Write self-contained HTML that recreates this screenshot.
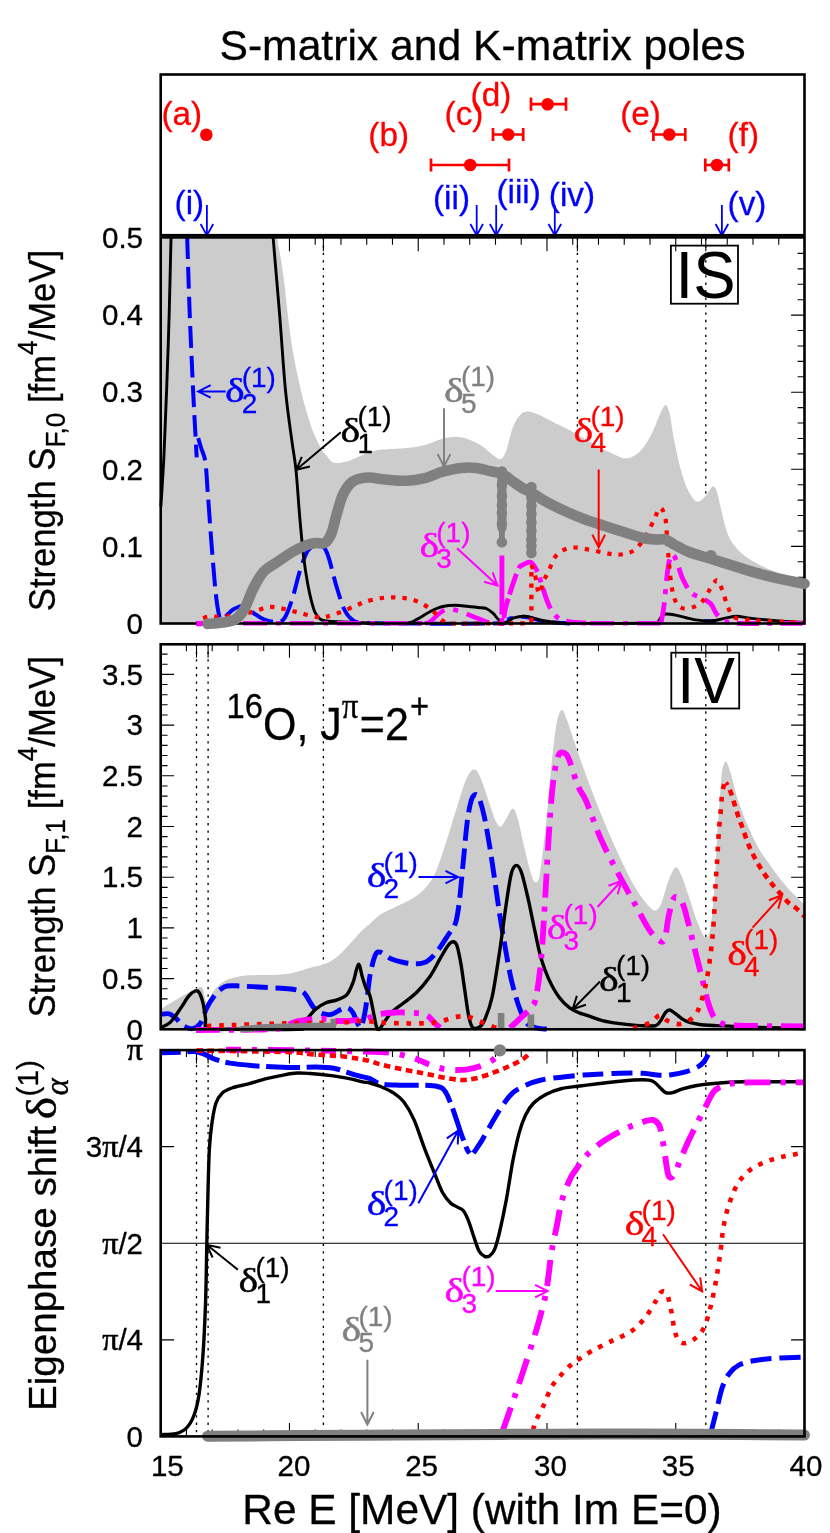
<!DOCTYPE html>
<html><head><meta charset="utf-8"><title>S-matrix and K-matrix poles</title>
<style>
html,body{margin:0;padding:0;background:#fff;}
body{width:830px;height:1533px;overflow:hidden;font-family:"Liberation Sans",sans-serif;}
svg{display:block;will-change:transform;}
svg text{font-family:"Liberation Sans",sans-serif;}
.ser{font-family:"Liberation Serif",serif;}
.seri{font-family:"Liberation Serif",serif;font-style:italic;}
</style></head><body>
<svg width="830" height="1533" viewBox="0 0 830 1533">
<rect x="0" y="0" width="830" height="1533" fill="#fff"/>
<text x="482.5" y="59.8" font-size="42.65" fill="#000" stroke="#000" stroke-width="0.3" text-anchor="middle" >S-matrix and K-matrix poles</text>
<text x="482.0" y="1523.6" font-size="42.4" fill="#000" stroke="#000" stroke-width="0.3" text-anchor="middle" >Re E [MeV] (with Im E=0)</text>
<g transform="translate(55,611.2) rotate(-90) scale(0.936,1)"><text x="0" y="0" font-size="37" stroke="#000" stroke-width="0.3">Strength S<tspan font-size="28" dy="9.8">F,0</tspan><tspan dy="-9.8"> [fm</tspan><tspan font-size="28" dy="-17.6">4</tspan><tspan dy="17.6">/MeV]</tspan></text></g>
<g transform="translate(55,1017.5) rotate(-90) scale(0.936,1)"><text x="0" y="0" font-size="37" stroke="#000" stroke-width="0.3">Strength S<tspan font-size="28" dy="9.8">F,1</tspan><tspan dy="-9.8"> [fm</tspan><tspan font-size="28" dy="-17.6">4</tspan><tspan dy="17.6">/MeV]</tspan></text></g>
<g transform="translate(56.3,1411) rotate(-90) scale(0.977,1)"><text x="0" y="0" font-size="39.5" stroke="#000" stroke-width="0.3">Eigenphase shift</text><text transform="translate(298.6,0) scale(1.125,1)" font-size="43" class="ser" stroke="#000" stroke-width="0.5">δ</text><text x="322" y="-18.6" font-size="30.3" stroke="#000" stroke-width="0.3">(1)</text><text x="323.2" y="11.2" font-size="33" class="seri" stroke="#000" stroke-width="0.4">α</text></g>
<text x="161.5" y="124.7" font-size="33.3" fill="#ff0000" stroke="#ff0000" stroke-width="0.3" text-anchor="start" >(a)</text>
<circle cx="206.3" cy="134.8" r="6.3" fill="#ff0000"/>
<text x="368.3" y="145.8" font-size="33.3" fill="#ff0000" stroke="#ff0000" stroke-width="0.3" text-anchor="start" >(b)</text>
<text x="444.6" y="124.7" font-size="33.3" fill="#ff0000" stroke="#ff0000" stroke-width="0.3" text-anchor="start" >(c)</text>
<text x="470.6" y="106.0" font-size="33.3" fill="#ff0000" stroke="#ff0000" stroke-width="0.3" text-anchor="start" >(d)</text>
<text x="620.2" y="124.7" font-size="33.3" fill="#ff0000" stroke="#ff0000" stroke-width="0.3" text-anchor="start" >(e)</text>
<text x="727.6" y="145.8" font-size="33.3" fill="#ff0000" stroke="#ff0000" stroke-width="0.3" text-anchor="start" >(f)</text>
<path d="M531,104.2 L566,104.2 M531,97.60000000000001 L531,110.8 M566,97.60000000000001 L566,110.8" stroke="#ff0000" stroke-width="2.7" fill="none"/>
<circle cx="547.6" cy="104.2" r="6.3" fill="#ff0000"/>
<path d="M493,134.5 L523.2,134.5 M493,127.9 L493,141.1 M523.2,127.9 L523.2,141.1" stroke="#ff0000" stroke-width="2.7" fill="none"/>
<circle cx="508.2" cy="134.5" r="6.3" fill="#ff0000"/>
<path d="M431,165 L509,165 M431,158.4 L431,171.6 M509,158.4 L509,171.6" stroke="#ff0000" stroke-width="2.7" fill="none"/>
<circle cx="470.2" cy="165" r="6.3" fill="#ff0000"/>
<path d="M653.4,134.5 L685.3,134.5 M653.4,127.9 L653.4,141.1 M685.3,127.9 L685.3,141.1" stroke="#ff0000" stroke-width="2.7" fill="none"/>
<circle cx="669.3" cy="134.5" r="6.3" fill="#ff0000"/>
<path d="M705.3,165 L728.8,165 M705.3,158.4 L705.3,171.6 M728.8,158.4 L728.8,171.6" stroke="#ff0000" stroke-width="2.7" fill="none"/>
<circle cx="716.9" cy="165" r="6.3" fill="#ff0000"/>
<text x="174.6" y="214.0" font-size="33.3" fill="#0000ff" stroke="#0000ff" stroke-width="0.3" text-anchor="start" >(i)</text>
<text x="433.0" y="209.0" font-size="33.3" fill="#0000ff" stroke="#0000ff" stroke-width="0.3" text-anchor="start" >(ii)</text>
<text x="496.4" y="202.7" font-size="33.3" fill="#0000ff" stroke="#0000ff" stroke-width="0.3" text-anchor="start" >(iii)</text>
<text x="548.8" y="206.0" font-size="33.3" fill="#0000ff" stroke="#0000ff" stroke-width="0.3" text-anchor="start" >(iv)</text>
<text x="727.6" y="215.0" font-size="33.3" fill="#0000ff" stroke="#0000ff" stroke-width="0.3" text-anchor="start" >(v)</text>
<path d="M206.9,205.0 L206.9,235.5 M200.6,224.0 L206.9,235.5 L213.2,224.0" fill="none" stroke="#0000ff" stroke-width="1.8" stroke-linejoin="miter"/>
<path d="M476.7,205.0 L476.7,235.5 M470.4,224.0 L476.7,235.5 L483.0,224.0" fill="none" stroke="#0000ff" stroke-width="1.8" stroke-linejoin="miter"/>
<path d="M496.2,205.0 L496.2,235.5 M489.9,224.0 L496.2,235.5 L502.5,224.0" fill="none" stroke="#0000ff" stroke-width="1.8" stroke-linejoin="miter"/>
<path d="M554.8,205.0 L554.8,235.5 M548.5,224.0 L554.8,235.5 L561.1,224.0" fill="none" stroke="#0000ff" stroke-width="1.8" stroke-linejoin="miter"/>
<path d="M721.9,205.0 L721.9,235.5 M715.6,224.0 L721.9,235.5 L728.2,224.0" fill="none" stroke="#0000ff" stroke-width="1.8" stroke-linejoin="miter"/>
<rect x="160.7" y="74.5" width="643.8" height="160.7" fill="none" stroke="#000" stroke-width="2.6"/>
<clipPath id="cIS"><rect x="150" y="237.9" width="670" height="400"/></clipPath>
<path d="M160.70,237.9 v13.4 M160.70,623.5 v-13.4 M186.45,237.9 v6.9 M186.45,623.5 v-6.9 M212.20,237.9 v6.9 M212.20,623.5 v-6.9 M237.96,237.9 v6.9 M237.96,623.5 v-6.9 M263.71,237.9 v6.9 M263.71,623.5 v-6.9 M289.46,237.9 v13.4 M289.46,623.5 v-13.4 M315.21,237.9 v6.9 M315.21,623.5 v-6.9 M340.96,237.9 v6.9 M340.96,623.5 v-6.9 M366.72,237.9 v6.9 M366.72,623.5 v-6.9 M392.47,237.9 v6.9 M392.47,623.5 v-6.9 M418.22,237.9 v13.4 M418.22,623.5 v-13.4 M443.97,237.9 v6.9 M443.97,623.5 v-6.9 M469.72,237.9 v6.9 M469.72,623.5 v-6.9 M495.48,237.9 v6.9 M495.48,623.5 v-6.9 M521.23,237.9 v6.9 M521.23,623.5 v-6.9 M546.98,237.9 v13.4 M546.98,623.5 v-13.4 M572.73,237.9 v6.9 M572.73,623.5 v-6.9 M598.48,237.9 v6.9 M598.48,623.5 v-6.9 M624.24,237.9 v6.9 M624.24,623.5 v-6.9 M649.99,237.9 v6.9 M649.99,623.5 v-6.9 M675.74,237.9 v13.4 M675.74,623.5 v-13.4 M701.49,237.9 v6.9 M701.49,623.5 v-6.9 M727.24,237.9 v6.9 M727.24,623.5 v-6.9 M753.00,237.9 v6.9 M753.00,623.5 v-6.9 M778.75,237.9 v6.9 M778.75,623.5 v-6.9 M804.50,237.9 v13.4 M804.50,623.5 v-13.4 " stroke="#000" stroke-width="1.1" fill="none"/>
<path d="M160.7,546.40 h13.4 M804.5,546.40 h-13.4 M160.7,469.30 h13.4 M804.5,469.30 h-13.4 M160.7,392.20 h13.4 M804.5,392.20 h-13.4 M160.7,315.10 h13.4 M804.5,315.10 h-13.4 M160.7,608.08 h6.9 M804.5,608.08 h-6.9 M160.7,592.66 h6.9 M804.5,592.66 h-6.9 M160.7,577.24 h6.9 M804.5,577.24 h-6.9 M160.7,561.82 h6.9 M804.5,561.82 h-6.9 M160.7,530.98 h6.9 M804.5,530.98 h-6.9 M160.7,515.56 h6.9 M804.5,515.56 h-6.9 M160.7,500.14 h6.9 M804.5,500.14 h-6.9 M160.7,484.72 h6.9 M804.5,484.72 h-6.9 M160.7,453.88 h6.9 M804.5,453.88 h-6.9 M160.7,438.46 h6.9 M804.5,438.46 h-6.9 M160.7,423.04 h6.9 M804.5,423.04 h-6.9 M160.7,407.62 h6.9 M804.5,407.62 h-6.9 M160.7,376.78 h6.9 M804.5,376.78 h-6.9 M160.7,361.36 h6.9 M804.5,361.36 h-6.9 M160.7,345.94 h6.9 M804.5,345.94 h-6.9 M160.7,330.52 h6.9 M804.5,330.52 h-6.9 M160.7,299.68 h6.9 M804.5,299.68 h-6.9 M160.7,284.26 h6.9 M804.5,284.26 h-6.9 M160.7,268.84 h6.9 M804.5,268.84 h-6.9 M160.7,253.42 h6.9 M804.5,253.42 h-6.9 " stroke="#000" stroke-width="1.1" fill="none"/>
<path d="M323.4,237.9 v13.4" stroke="#000" stroke-width="1.1" fill="none"/>
<path d="M323.4,237.9 L323.4,623.5" stroke="#000" stroke-width="1.35" stroke-dasharray="2.3 5.15" fill="none"/>
<path d="M577.4,237.9 v13.4" stroke="#000" stroke-width="1.1" fill="none"/>
<path d="M577.4,237.9 L577.4,623.5" stroke="#000" stroke-width="1.35" stroke-dasharray="2.3 5.15" fill="none"/>
<path d="M705.8,237.9 v13.4" stroke="#000" stroke-width="1.1" fill="none"/>
<path d="M705.8,237.9 L705.8,623.5" stroke="#000" stroke-width="1.35" stroke-dasharray="2.3 5.15" fill="none"/>
<text x="143.0" y="633.7" font-size="29.5" fill="#000" stroke="#000" stroke-width="0.3" text-anchor="end" >0</text>
<text x="143.0" y="556.6" font-size="29.5" fill="#000" stroke="#000" stroke-width="0.3" text-anchor="end" >0.1</text>
<text x="143.0" y="479.5" font-size="29.5" fill="#000" stroke="#000" stroke-width="0.3" text-anchor="end" >0.2</text>
<text x="143.0" y="402.4" font-size="29.5" fill="#000" stroke="#000" stroke-width="0.3" text-anchor="end" >0.3</text>
<text x="143.0" y="325.3" font-size="29.5" fill="#000" stroke="#000" stroke-width="0.3" text-anchor="end" >0.4</text>
<text x="143.0" y="248.2" font-size="29.5" fill="#000" stroke="#000" stroke-width="0.3" text-anchor="end" >0.5</text>
<path d="M277.0,225.0 C277.1,227.3 276.5,230.3 277.5,238.6 C278.5,246.9 281.0,257.9 283.2,274.6 C285.4,291.3 288.3,321.3 290.9,338.9 C293.5,356.5 296.0,368.1 298.6,380.1 C301.2,392.1 303.7,402.0 306.3,411.0 C308.9,420.0 311.4,427.7 314.0,434.1 C316.6,440.5 319.7,446.0 321.8,449.6 C323.9,453.2 324.9,453.8 326.9,456.0 C328.9,458.2 330.5,461.9 333.8,462.8 C337.1,463.7 342.4,462.5 346.7,461.4 C351.0,460.3 355.8,457.7 359.7,456.2 C363.6,454.7 366.5,453.4 370.0,452.3 C373.5,451.2 375.3,450.4 380.5,449.7 C385.7,449.0 394.4,449.0 401.3,448.4 C408.2,447.8 415.5,447.3 422.0,445.8 C428.5,444.3 434.5,440.9 440.1,439.4 C445.7,437.9 450.9,436.8 455.7,436.8 C460.4,436.8 464.3,437.9 468.6,439.4 C472.9,440.9 477.3,443.0 481.6,445.8 C485.9,448.6 491.3,454.0 494.5,456.2 C497.7,458.4 499.1,459.7 501.0,458.8 C502.9,457.9 504.2,456.2 506.2,451.0 C508.1,445.8 510.3,433.7 512.7,427.7 C515.1,421.7 517.8,417.5 520.4,414.8 C523.0,412.1 525.2,411.6 528.2,411.6 C531.2,411.6 534.7,413.2 538.6,414.8 C542.5,416.4 546.8,418.8 551.5,421.2 C556.2,423.6 562.4,426.5 567.1,429.0 C571.9,431.5 575.9,433.7 580.0,436.0 C584.1,438.3 587.2,440.3 592.0,443.0 C596.8,445.7 603.3,449.4 609.0,452.0 C614.7,454.6 620.8,458.4 626.0,458.3 C631.2,458.2 635.9,455.2 640.1,451.2 C644.3,447.2 648.1,440.3 651.4,434.2 C654.7,428.1 657.5,419.3 659.9,414.4 C662.3,409.5 664.0,405.0 665.6,405.0 C667.2,405.0 668.4,408.6 669.8,414.4 C671.2,420.2 672.2,430.5 674.1,439.9 C676.0,449.3 678.8,462.5 681.2,471.0 C683.6,479.5 685.7,485.7 688.3,490.8 C690.9,495.9 693.9,500.7 696.7,501.6 C699.5,502.6 702.8,498.8 705.2,496.5 C707.6,494.2 709.5,489.6 710.9,488.0 C712.3,486.4 712.8,486.1 713.7,486.6 C714.7,487.1 715.4,487.3 716.6,490.8 C717.8,494.3 719.1,501.2 720.8,507.8 C722.4,514.4 724.4,524.3 726.5,530.4 C728.6,536.5 730.4,540.4 733.5,544.6 C736.6,548.9 740.2,552.4 744.9,555.9 C749.6,559.4 756.2,563.1 761.9,565.9 C767.6,568.7 771.8,570.5 778.9,572.9 C786.0,575.2 800.2,578.8 804.5,580.0 L804.5,623.5 L160.7,623.5 L160.7,225 Z" fill="#cccccc" stroke="none" clip-path="url(#cIS)"/>
<g clip-path="url(#cIS)">
<path d="M186.9,230.0 C186.9,231.4 186.7,224.7 187.2,238.6 C187.7,252.5 188.7,287.9 189.7,313.2 C190.7,338.5 192.1,369.4 193.1,390.4 C194.1,411.4 195.1,428.1 195.7,439.3 C196.3,450.5 196.5,454.3 196.7,457.3" fill="none" stroke="#0000ff" stroke-width="4.0" stroke-dasharray="21.7 7.9" stroke-dashoffset="21.4"/>
<path d="M198.2,438.1 C198.8,439.9 200.3,445.1 201.5,449.0 C202.7,452.9 204.2,454.2 205.3,461.6 C206.4,469.0 206.8,479.5 207.8,493.4 C208.9,507.3 210.3,528.5 211.6,544.8 C212.9,561.1 214.3,579.6 215.5,591.1 C216.7,602.6 217.8,609.3 218.8,614.0 C219.8,618.7 220.3,618.7 221.3,619.2 C222.3,619.7 222.9,618.5 225.0,616.8 C227.1,615.1 230.8,610.8 234.0,609.0 C237.2,607.2 240.8,605.3 244.0,606.0 C247.2,606.7 250.1,610.8 253.4,613.0 C256.7,615.2 259.9,617.9 263.8,619.4 C267.7,620.9 273.4,622.2 276.8,622.0 C280.2,621.8 281.9,622.0 284.5,618.1 C287.1,614.2 289.7,606.7 292.3,598.7 C294.9,590.7 297.5,578.2 300.1,570.2 C302.7,562.2 305.2,554.9 307.8,550.8 C310.4,546.7 313.0,546.2 315.6,545.6 C318.2,545.0 321.2,545.0 323.4,546.9 C325.6,548.8 326.5,550.8 328.6,557.3 C330.8,563.8 333.7,577.2 336.3,585.8 C338.9,594.4 341.5,603.4 344.1,609.0 C346.7,614.6 348.9,617.1 351.9,619.4 C354.9,621.7 354.3,622.1 362.3,622.8 C370.3,623.5 377.4,623.4 400.0,623.5 C422.6,623.6 479.7,624.1 498.0,623.3 C516.3,622.5 505.4,619.5 510.0,618.5 C514.6,617.5 519.8,616.5 525.6,617.0 C531.4,617.5 537.6,620.4 545.0,621.5 C552.4,622.6 565.8,623.2 570.0,623.5" fill="none" stroke="#0000ff" stroke-width="4.0" stroke-dasharray="23.5 8" />
<path d="M703.5,621.0 L716.0,621.0" fill="none" stroke="#0000ff" stroke-width="3.6" />
<path d="M160.9,506.5 C161.4,497.9 163.1,474.1 164.0,454.7 C164.9,435.3 165.7,414.0 166.6,390.4 C167.5,366.8 168.5,338.5 169.2,313.2 C169.9,287.9 170.6,253.3 171.0,238.6 C171.4,223.9 171.3,227.3 171.4,225.0" fill="none" stroke="#000" stroke-width="2.9" />
<path d="M272.2,225.0 C272.4,227.3 272.0,223.9 273.2,238.6 C274.4,253.3 277.4,287.9 279.5,313.2 C281.6,338.5 283.4,369.0 285.5,390.4 C287.6,411.8 290.2,428.5 292.0,441.8 C293.8,455.1 294.7,457.2 296.0,470.1 C297.3,483.0 298.6,504.4 299.9,519.0 C301.2,533.6 302.4,546.9 303.7,557.6 C305.0,568.3 306.3,576.0 307.6,583.3 C308.9,590.6 310.2,596.4 311.5,601.3 C312.8,606.2 313.8,609.9 315.3,612.9 C316.8,615.9 318.6,617.9 320.5,619.3 C322.4,620.6 322.1,620.5 327.0,621.0 C331.9,621.5 337.2,621.9 350.0,622.3 C362.8,622.7 392.8,623.8 403.9,623.3 C415.0,622.8 412.5,621.3 416.8,619.4 C421.1,617.5 425.5,613.9 429.8,611.7 C434.1,609.6 438.4,607.6 442.7,606.5 C447.0,605.4 451.4,605.2 455.7,605.2 C460.0,605.2 464.3,606.1 468.6,606.5 C472.9,606.9 478.6,607.4 481.6,607.8 C484.6,608.2 484.7,607.7 486.7,608.7 C488.7,609.7 491.5,611.9 493.5,613.7 C495.5,615.5 496.5,618.1 498.6,619.6 C500.7,621.1 503.7,622.8 506.2,622.5 C508.7,622.2 510.5,618.9 513.7,617.9 C516.9,616.9 521.8,616.1 525.5,616.3 C529.2,616.4 532.0,618.0 535.7,618.8 C539.4,619.6 541.4,620.5 547.5,621.3 C553.6,622.0 555.2,623.0 572.3,623.3 C589.4,623.6 635.9,623.1 650.0,623.0 C664.1,622.9 655.2,623.5 657.1,622.5 C659.0,621.5 660.0,618.2 661.4,616.8 C662.8,615.4 663.0,614.2 665.6,614.0 C668.2,613.8 672.2,614.5 676.9,615.4 C681.6,616.3 688.2,618.7 693.9,619.6 C699.6,620.5 705.7,621.2 710.9,621.0 C716.1,620.8 720.9,619.0 725.1,618.2 C729.4,617.4 732.2,616.2 736.4,616.2 C740.6,616.2 744.4,617.5 750.5,618.2 C756.6,618.9 764.2,619.8 773.2,620.5 C782.2,621.2 799.3,622.2 804.5,622.5" fill="none" stroke="#000" stroke-width="2.9" />
<path d="M196.0,623.3 L425.0,623.3" fill="none" stroke="#ff00ff" stroke-width="4.6" stroke-dasharray="24 9 5 9" />
<path d="M425.0,623.3 C425.8,623.1 427.3,623.7 429.8,622.0 C432.3,620.3 437.0,615.2 440.0,613.0 C443.0,610.8 444.5,609.2 448.0,609.0 C451.5,608.8 456.6,610.4 460.9,611.7 C465.2,613.0 469.5,615.1 473.8,616.8 C478.1,618.5 482.9,620.8 486.8,622.0 C490.7,623.2 495.3,623.5 497.0,623.8" fill="none" stroke="#ff00ff" stroke-width="4.6" stroke-dasharray="24 9 5 9" />
<path d="M501.9,555.5 L501.9,626.0" fill="none" stroke="#ff00ff" stroke-width="4.9" stroke-dasharray="59 3.5 20" />
<path d="M504.0,618.0 C504.2,616.5 504.0,613.9 505.3,608.7 C506.6,603.5 509.8,593.5 512.0,586.7 C514.2,580.0 517.0,571.9 518.8,568.2 C520.6,564.6 521.0,565.8 523.0,564.8 C525.0,563.8 528.2,561.2 530.6,562.3 C533.0,563.4 535.3,567.5 537.3,571.6 C539.3,575.7 540.7,581.7 542.4,586.7 C544.1,591.8 545.8,597.7 547.5,601.9 C549.2,606.1 550.5,609.2 552.5,612.0 C554.5,614.8 556.5,617.2 559.3,618.8 C562.1,620.4 564.3,621.0 569.4,621.8 C574.5,622.5 586.6,623.0 590.0,623.3" fill="none" stroke="#ff00ff" stroke-width="4.9" stroke-dasharray="20 4 22 6 26 6 5 6 22 8 5 8" />
<path d="M590.0,623.3 L660.0,623.3" fill="none" stroke="#ff00ff" stroke-width="4.6" stroke-dasharray="24 9 5 9" />
<path d="M660.0,623.0 C660.2,622.7 660.7,624.2 661.4,621.0 C662.1,617.8 663.3,611.5 664.2,604.0 C665.1,596.5 666.1,583.2 667.0,575.7 C667.9,568.2 668.8,562.3 669.8,558.8 C670.8,555.3 671.5,554.0 672.7,554.5 C673.9,555.0 675.2,557.6 676.9,561.6 C678.5,565.6 680.2,573.4 682.6,578.6 C685.0,583.8 687.8,589.4 691.1,592.7 C694.4,596.0 699.1,596.5 702.4,598.4 C705.7,600.3 708.5,601.4 710.9,604.0 C713.3,606.6 714.2,611.2 716.6,614.0 C719.0,616.8 721.2,619.5 725.1,621.0 C729.0,622.5 726.8,622.9 740.0,623.3 C753.2,623.7 793.8,623.3 804.5,623.3" fill="none" stroke="#ff00ff" stroke-width="4.8" stroke-dasharray="22 8 5 8" />
<path d="M203.0,618.0 C204.3,617.7 208.2,616.5 211.0,616.3 C213.8,616.1 215.6,617.0 219.8,616.8 C224.0,616.6 230.4,615.9 236.0,615.0 C241.6,614.1 247.9,613.0 253.4,611.7 C258.9,610.4 263.8,607.5 269.0,607.0 C274.2,606.5 279.3,608.0 284.5,609.0 C289.7,610.0 294.8,611.7 300.0,613.0 C305.2,614.3 311.3,616.2 315.6,616.8 C319.9,617.4 321.7,617.6 326.0,616.8 C330.3,615.9 336.3,613.6 341.5,611.7 C346.7,609.8 353.1,606.9 357.0,605.2 C360.9,603.6 361.1,603.0 365.0,601.8 C368.9,600.6 375.3,598.9 380.5,598.2 C385.7,597.5 390.8,597.2 396.0,597.4 C401.2,597.6 406.8,598.2 411.6,599.5 C416.4,600.8 420.7,603.0 424.6,605.2 C428.5,607.5 432.0,610.4 435.0,613.0 C438.0,615.6 439.7,619.0 442.7,620.7 C445.7,622.5 446.8,623.0 453.0,623.5 C459.2,624.0 468.0,623.5 480.0,623.5 C492.0,623.5 516.4,623.5 525.0,623.3 C533.6,623.0 530.3,622.2 531.4,622.0" fill="none" stroke="#ff0000" stroke-width="4.2" stroke-dasharray="4.4 7" />
<path d="M531.4,622.0 L531.4,565.0" fill="none" stroke="#ff0000" stroke-width="4.4" stroke-dasharray="4.4 7" />
<path d="M531.4,565.0 C532.0,566.7 533.7,570.2 535.0,575.0 C536.3,579.8 537.5,592.7 539.0,593.5 C540.5,594.3 542.4,583.9 544.1,580.0 C545.8,576.1 547.5,573.5 549.2,569.9 C550.9,566.2 552.0,561.3 554.2,558.1 C556.4,554.9 559.2,552.3 562.6,550.5 C566.0,548.7 570.1,547.6 574.5,547.5 C578.9,547.4 584.4,548.9 589.2,549.7 C594.0,550.5 599.1,551.7 603.3,552.5 C607.5,553.3 610.8,554.3 614.6,554.5 C618.4,554.7 622.5,554.6 626.0,553.7 C629.5,552.8 632.6,551.8 635.9,548.9 C639.2,546.0 642.7,541.1 645.8,536.1 C648.9,531.1 651.9,523.8 654.3,519.1 C656.6,514.4 658.1,508.3 659.9,507.8 C661.7,507.3 663.8,511.6 665.0,516.3 C666.2,521.0 666.4,529.5 667.0,536.1 C667.6,542.7 667.7,547.9 668.4,555.9 C669.1,563.9 670.1,576.8 671.3,584.3 C672.5,591.8 673.6,597.2 675.5,601.2 C677.4,605.2 679.5,607.3 682.6,608.3 C685.7,609.2 690.6,608.1 693.9,606.9 C697.2,605.7 699.8,604.0 702.4,601.2 C705.0,598.4 707.4,593.2 709.5,589.9 C711.6,586.6 713.8,582.9 715.2,581.4 C716.6,579.9 716.8,579.4 718.0,580.8 C719.2,582.2 720.6,585.5 722.2,589.9 C723.9,594.2 726.0,602.4 727.9,606.9 C729.8,611.4 730.7,614.7 733.5,616.8 C736.3,618.9 740.2,618.9 744.9,619.6 C749.6,620.3 752.0,620.5 761.9,621.0 C771.8,621.5 797.4,622.2 804.5,622.5" fill="none" stroke="#ff0000" stroke-width="4.2" stroke-dasharray="4.4 7" />
</g>
<rect x="160.7" y="237.4" width="643.8" height="386.1" fill="none" stroke="#000" stroke-width="2.6"/>
<g clip-path="url(#cIS)">
<rect x="196.4" y="620.9" width="6" height="5.4" fill="#ff00ff"/>
<path d="M207.5,623.9 C210.0,623.7 217.8,623.2 222.4,622.5 C227.0,621.8 231.6,621.6 235.3,619.4 C239.0,617.1 241.4,614.2 244.4,609.0 C247.4,603.8 250.2,594.5 253.4,588.3 C256.6,582.0 259.9,575.8 263.8,571.5 C267.7,567.2 272.1,565.6 276.8,562.4 C281.6,559.1 287.6,554.8 292.3,552.0 C297.1,549.2 301.4,547.1 305.3,545.6 C309.2,544.1 312.4,543.4 315.6,543.0 C318.8,542.6 322.1,544.5 324.7,543.0 C327.3,541.5 329.3,538.4 331.2,533.9 C333.1,529.4 334.4,522.3 336.3,515.8 C338.2,509.3 340.2,500.6 342.8,495.0 C345.4,489.4 348.6,484.9 351.9,482.1 C355.1,479.3 359.3,479.0 362.3,478.2 C365.3,477.4 366.1,477.3 370.0,477.5 C373.9,477.7 379.6,478.9 385.7,479.5 C391.8,480.1 400.0,481.0 406.5,480.8 C413.0,480.6 418.6,479.7 424.6,478.2 C430.6,476.7 436.6,473.4 442.7,471.7 C448.8,470.0 455.3,468.5 460.9,467.9 C466.5,467.3 471.5,467.3 476.4,467.9 C481.3,468.4 485.9,470.2 490.1,471.2 C494.4,472.2 498.0,471.9 501.9,473.7 C505.8,475.5 510.0,479.7 513.7,482.2 C517.4,484.7 521.0,487.2 523.9,488.9 C526.8,490.6 528.0,490.5 531.4,492.5 C534.8,494.5 538.6,497.6 544.1,500.7 C549.6,503.8 557.5,507.7 564.3,510.8 C571.0,513.9 577.9,516.8 584.6,519.3 C591.4,521.8 598.8,524.0 604.8,526.0 C610.8,528.0 613.9,529.0 620.3,531.0 C626.7,533.0 636.9,536.6 643.0,538.0 C649.1,539.4 653.3,539.2 657.1,539.5 C660.9,539.8 662.8,538.6 665.6,539.5 C668.4,540.4 670.3,542.6 674.1,544.6 C677.9,546.6 682.2,549.3 688.3,551.7 C694.4,554.1 703.4,556.4 710.9,558.8 C718.4,561.2 726.0,563.5 733.5,565.9 C741.0,568.2 748.6,570.8 756.2,572.9 C763.8,575.0 770.9,576.8 778.9,578.6 C786.9,580.4 800.2,582.9 804.5,583.7" fill="none" stroke="#808080" stroke-width="10.6" stroke-linecap="round" stroke-linejoin="round"/>
<path d="M501.9,472.0 L501.9,528.0" fill="none" stroke="#808080" stroke-width="9.2" stroke-linecap="round"/>
<path d="M531.4,487.5 L531.4,553.0" fill="none" stroke="#808080" stroke-width="9.2" stroke-linecap="round"/>
<circle cx="501.9" cy="471.5" r="5.3" fill="#808080"/>
<circle cx="501.9" cy="485" r="5.3" fill="#808080"/>
<circle cx="501.9" cy="496" r="5.3" fill="#808080"/>
<circle cx="501.9" cy="505" r="5.3" fill="#808080"/>
<circle cx="501.9" cy="513" r="5.3" fill="#808080"/>
<circle cx="501.9" cy="524" r="5.3" fill="#808080"/>
<circle cx="501.9" cy="542.3" r="5.3" fill="#808080"/>
<circle cx="531.4" cy="487" r="5.3" fill="#808080"/>
<circle cx="531.4" cy="497" r="5.3" fill="#808080"/>
<circle cx="531.4" cy="505.5" r="5.3" fill="#808080"/>
<circle cx="531.4" cy="514" r="5.3" fill="#808080"/>
<circle cx="531.4" cy="522.5" r="5.3" fill="#808080"/>
<circle cx="531.4" cy="531" r="5.3" fill="#808080"/>
<circle cx="531.4" cy="539.5" r="5.3" fill="#808080"/>
<circle cx="531.4" cy="546" r="5.3" fill="#808080"/>
<circle cx="531.4" cy="553" r="5.3" fill="#808080"/>
<rect x="499" y="528" width="5.8" height="11" fill="#808080"/>
<circle cx="710.9" cy="555.5" r="5.6" fill="#808080"/>
</g>
<rect x="670.9" y="245.6" width="67.1" height="58.1" fill="none" stroke="#000" stroke-width="1.8"/>
<text transform="translate(705.6,297.6) scale(0.955,1)" font-size="66.5" text-anchor="middle">IS</text>
<text transform="translate(224.9,402.0) scale(1.22,1)" font-size="34.3" fill="#0000ff" stroke="#0000ff" stroke-width="0.45" class="ser">δ</text>
<text x="241.7" y="386.6" font-size="28" fill="#0000ff" stroke="#0000ff" stroke-width="0.3">(1)</text>
<text x="241.7" y="412.8" font-size="28" fill="#0000ff" stroke="#0000ff" stroke-width="0.3">2</text>
<path d="M225.7,391.4 L198.2,391.4 M210.7,385.1 L198.2,391.4 L210.7,397.7" fill="none" stroke="#0000ff" stroke-width="2.0" stroke-linejoin="miter"/>
<text transform="translate(340.6,441.8) scale(1.22,1)" font-size="34.3" fill="#000" stroke="#000" stroke-width="0.45" class="ser">δ</text>
<text x="357.4" y="426.4" font-size="28" fill="#000" stroke="#000" stroke-width="0.3">(1)</text>
<text x="357.4" y="452.6" font-size="28" fill="#000" stroke="#000" stroke-width="0.3">1</text>
<path d="M340.8,432.2 L296.3,469.8 M301.8,456.9 L296.3,469.8 L309.9,466.5" fill="none" stroke="#000" stroke-width="2.0" stroke-linejoin="miter"/>
<text transform="translate(444.1,401.8) scale(1.22,1)" font-size="34.3" fill="#808080" stroke="#808080" stroke-width="0.45" class="ser">δ</text>
<text x="460.9" y="386.4" font-size="28" fill="#808080" stroke="#808080" stroke-width="0.3">(1)</text>
<text x="460.9" y="412.6" font-size="28" fill="#808080" stroke="#808080" stroke-width="0.3">5</text>
<path d="M444.0,408.3 L444.0,466.6 M437.7,454.1 L444.0,466.6 L450.3,454.1" fill="none" stroke="#808080" stroke-width="2.0" stroke-linejoin="miter"/>
<text transform="translate(419.5,557.2) scale(1.22,1)" font-size="34.3" fill="#ff00ff" stroke="#ff00ff" stroke-width="0.45" class="ser">δ</text>
<text x="436.3" y="541.8" font-size="28" fill="#ff00ff" stroke="#ff00ff" stroke-width="0.3">(1)</text>
<text x="436.3" y="568.0" font-size="28" fill="#ff00ff" stroke="#ff00ff" stroke-width="0.3">3</text>
<path d="M457.0,548.2 L497.5,585.5 M484.0,581.7 L497.5,585.5 L492.6,572.4" fill="none" stroke="#ff00ff" stroke-width="2.0" stroke-linejoin="miter"/>
<text transform="translate(573.6,441.5) scale(1.22,1)" font-size="34.3" fill="#ff0000" stroke="#ff0000" stroke-width="0.45" class="ser">δ</text>
<text x="590.4" y="426.1" font-size="28" fill="#ff0000" stroke="#ff0000" stroke-width="0.3">(1)</text>
<text x="590.4" y="452.3" font-size="28" fill="#ff0000" stroke="#ff0000" stroke-width="0.3">4</text>
<path d="M598.7,469.5 L598.7,547.2 M592.4,534.7 L598.7,547.2 L605.0,534.7" fill="none" stroke="#ff0000" stroke-width="2.0" stroke-linejoin="miter"/>
<clipPath id="cIV"><rect x="150" y="644.3" width="670" height="391.0"/></clipPath>
<path d="M160.70,644.3 v13.4 M160.70,1029.3 v-13.4 M186.45,644.3 v6.9 M186.45,1029.3 v-6.9 M212.20,644.3 v6.9 M212.20,1029.3 v-6.9 M237.96,644.3 v6.9 M237.96,1029.3 v-6.9 M263.71,644.3 v6.9 M263.71,1029.3 v-6.9 M289.46,644.3 v13.4 M289.46,1029.3 v-13.4 M315.21,644.3 v6.9 M315.21,1029.3 v-6.9 M340.96,644.3 v6.9 M340.96,1029.3 v-6.9 M366.72,644.3 v6.9 M366.72,1029.3 v-6.9 M392.47,644.3 v6.9 M392.47,1029.3 v-6.9 M418.22,644.3 v13.4 M418.22,1029.3 v-13.4 M443.97,644.3 v6.9 M443.97,1029.3 v-6.9 M469.72,644.3 v6.9 M469.72,1029.3 v-6.9 M495.48,644.3 v6.9 M495.48,1029.3 v-6.9 M521.23,644.3 v6.9 M521.23,1029.3 v-6.9 M546.98,644.3 v13.4 M546.98,1029.3 v-13.4 M572.73,644.3 v6.9 M572.73,1029.3 v-6.9 M598.48,644.3 v6.9 M598.48,1029.3 v-6.9 M624.24,644.3 v6.9 M624.24,1029.3 v-6.9 M649.99,644.3 v6.9 M649.99,1029.3 v-6.9 M675.74,644.3 v13.4 M675.74,1029.3 v-13.4 M701.49,644.3 v6.9 M701.49,1029.3 v-6.9 M727.24,644.3 v6.9 M727.24,1029.3 v-6.9 M753.00,644.3 v6.9 M753.00,1029.3 v-6.9 M778.75,644.3 v6.9 M778.75,1029.3 v-6.9 M804.50,644.3 v13.4 M804.50,1029.3 v-13.4 " stroke="#000" stroke-width="1.1" fill="none"/>
<path d="M160.7,978.60 h13.4 M804.5,978.60 h-13.4 M160.7,927.90 h13.4 M804.5,927.90 h-13.4 M160.7,877.20 h13.4 M804.5,877.20 h-13.4 M160.7,826.50 h13.4 M804.5,826.50 h-13.4 M160.7,775.80 h13.4 M804.5,775.80 h-13.4 M160.7,725.10 h13.4 M804.5,725.10 h-13.4 M160.7,674.40 h13.4 M804.5,674.40 h-13.4 M160.7,1019.16 h6.9 M804.5,1019.16 h-6.9 M160.7,1009.02 h6.9 M804.5,1009.02 h-6.9 M160.7,998.88 h6.9 M804.5,998.88 h-6.9 M160.7,988.74 h6.9 M804.5,988.74 h-6.9 M160.7,968.46 h6.9 M804.5,968.46 h-6.9 M160.7,958.32 h6.9 M804.5,958.32 h-6.9 M160.7,948.18 h6.9 M804.5,948.18 h-6.9 M160.7,938.04 h6.9 M804.5,938.04 h-6.9 M160.7,917.76 h6.9 M804.5,917.76 h-6.9 M160.7,907.62 h6.9 M804.5,907.62 h-6.9 M160.7,897.48 h6.9 M804.5,897.48 h-6.9 M160.7,887.34 h6.9 M804.5,887.34 h-6.9 M160.7,867.06 h6.9 M804.5,867.06 h-6.9 M160.7,856.92 h6.9 M804.5,856.92 h-6.9 M160.7,846.78 h6.9 M804.5,846.78 h-6.9 M160.7,836.64 h6.9 M804.5,836.64 h-6.9 M160.7,816.36 h6.9 M804.5,816.36 h-6.9 M160.7,806.22 h6.9 M804.5,806.22 h-6.9 M160.7,796.08 h6.9 M804.5,796.08 h-6.9 M160.7,785.94 h6.9 M804.5,785.94 h-6.9 M160.7,765.66 h6.9 M804.5,765.66 h-6.9 M160.7,755.52 h6.9 M804.5,755.52 h-6.9 M160.7,745.38 h6.9 M804.5,745.38 h-6.9 M160.7,735.24 h6.9 M804.5,735.24 h-6.9 M160.7,714.96 h6.9 M804.5,714.96 h-6.9 M160.7,704.82 h6.9 M804.5,704.82 h-6.9 M160.7,694.68 h6.9 M804.5,694.68 h-6.9 M160.7,684.54 h6.9 M804.5,684.54 h-6.9 M160.7,664.26 h6.9 M804.5,664.26 h-6.9 M160.7,654.12 h6.9 M804.5,654.12 h-6.9 " stroke="#000" stroke-width="1.1" fill="none"/>
<path d="M196.5,644.3 v13.4" stroke="#000" stroke-width="1.1" fill="none"/>
<path d="M196.5,644.3 L196.5,1029.3" stroke="#000" stroke-width="1.35" stroke-dasharray="2.3 5.15" fill="none"/>
<path d="M208.1,644.3 v13.4" stroke="#000" stroke-width="1.1" fill="none"/>
<path d="M208.1,644.3 L208.1,1029.3" stroke="#000" stroke-width="1.35" stroke-dasharray="2.3 5.15" fill="none"/>
<path d="M323.4,644.3 v13.4" stroke="#000" stroke-width="1.1" fill="none"/>
<path d="M323.4,644.3 L323.4,1029.3" stroke="#000" stroke-width="1.35" stroke-dasharray="2.3 5.15" fill="none"/>
<path d="M577.4,644.3 v13.4" stroke="#000" stroke-width="1.1" fill="none"/>
<path d="M577.4,644.3 L577.4,1029.3" stroke="#000" stroke-width="1.35" stroke-dasharray="2.3 5.15" fill="none"/>
<path d="M705.8,644.3 v13.4" stroke="#000" stroke-width="1.1" fill="none"/>
<path d="M705.8,644.3 L705.8,1029.3" stroke="#000" stroke-width="1.35" stroke-dasharray="2.3 5.15" fill="none"/>
<text x="143.0" y="1039.5" font-size="29.5" fill="#000" stroke="#000" stroke-width="0.3" text-anchor="end" >0</text>
<text x="143.0" y="988.8" font-size="29.5" fill="#000" stroke="#000" stroke-width="0.3" text-anchor="end" >0.5</text>
<text x="143.0" y="938.1" font-size="29.5" fill="#000" stroke="#000" stroke-width="0.3" text-anchor="end" >1</text>
<text x="143.0" y="887.4" font-size="29.5" fill="#000" stroke="#000" stroke-width="0.3" text-anchor="end" >1.5</text>
<text x="143.0" y="836.7" font-size="29.5" fill="#000" stroke="#000" stroke-width="0.3" text-anchor="end" >2</text>
<text x="143.0" y="786.0" font-size="29.5" fill="#000" stroke="#000" stroke-width="0.3" text-anchor="end" >2.5</text>
<text x="143.0" y="735.3" font-size="29.5" fill="#000" stroke="#000" stroke-width="0.3" text-anchor="end" >3</text>
<text x="143.0" y="684.6" font-size="29.5" fill="#000" stroke="#000" stroke-width="0.3" text-anchor="end" >3.5</text>
<path d="M160.7,1009.2 C163.2,1007.7 170.6,1003.1 175.7,1000.1 C180.8,997.1 187.0,993.1 191.3,991.0 C195.6,988.9 199.4,986.6 201.6,987.2 C203.8,987.9 203.3,992.3 204.2,994.9 C205.1,997.5 205.9,1002.2 206.8,1002.7 C207.7,1003.2 208.2,1000.2 209.5,998.0 C210.8,995.8 212.0,992.6 214.6,989.7 C217.2,986.8 220.7,982.9 225.0,980.7 C229.3,978.5 234.9,977.2 240.5,976.3 C246.1,975.3 252.6,975.3 258.6,975.0 C264.7,974.7 271.2,975.1 276.8,974.7 C282.4,974.4 286.7,974.1 292.3,972.9 C297.9,971.7 305.2,969.1 310.4,967.7 C315.6,966.3 319.1,966.3 323.4,964.6 C327.7,962.9 332.0,960.8 336.3,957.4 C340.6,954.0 345.0,948.9 349.3,944.4 C353.6,939.9 358.9,933.7 362.3,930.2 C365.8,926.8 367.0,926.3 370.0,923.7 C373.0,921.1 376.2,917.4 380.5,914.6 C384.8,911.8 390.8,909.4 396.0,906.8 C401.2,904.2 406.8,902.1 411.6,899.1 C416.4,896.1 420.7,893.0 424.6,888.7 C428.5,884.4 431.6,880.5 435.0,873.2 C438.4,865.9 441.9,855.1 445.3,844.7 C448.8,834.3 452.2,821.8 455.7,811.0 C459.1,800.2 463.0,786.8 466.0,779.9 C469.0,773.0 471.4,769.9 473.8,769.5 C476.2,769.1 477.7,771.7 480.3,777.3 C482.9,782.9 486.8,795.9 489.4,803.2 C492.0,810.5 493.9,817.4 495.8,821.3 C497.7,825.2 499.3,826.9 501.0,826.5 C502.7,826.1 504.2,821.8 506.2,818.8 C508.1,815.8 510.8,808.4 512.7,808.4 C514.6,808.4 515.9,812.3 517.8,818.8 C519.7,825.3 522.1,838.2 524.3,847.3 C526.5,856.4 528.9,867.4 530.8,873.2 C532.7,879.0 534.0,882.2 535.5,882.2 C537.0,882.2 538.1,883.4 539.9,873.2 C541.7,863.1 544.4,839.4 546.3,821.3 C548.2,803.2 549.8,780.8 551.5,764.4 C553.2,748.0 555.0,732.0 556.7,722.9 C558.4,713.8 560.2,710.3 561.9,709.9 C563.6,709.5 564.9,714.7 567.1,720.3 C569.3,725.9 571.7,734.3 574.9,743.6 C578.1,752.9 582.0,764.4 586.3,775.9 C590.6,787.4 595.3,800.0 600.5,812.7 C605.7,825.4 611.8,840.0 617.5,852.3 C623.2,864.6 629.3,877.3 634.5,886.3 C639.7,895.3 645.1,902.1 648.6,906.1 C652.1,910.1 653.6,910.9 655.7,910.4 C657.8,909.9 659.3,908.2 661.4,903.3 C663.5,898.3 666.0,886.7 668.4,880.7 C670.8,874.7 673.4,868.4 675.5,867.4 C677.6,866.4 679.1,870.4 681.2,875.0 C683.3,879.6 685.7,887.2 688.3,894.8 C690.9,902.3 693.9,913.1 696.7,920.3 C699.5,927.5 703.0,936.2 705.2,937.8 C707.4,939.4 708.8,935.5 710.1,930.0 C711.4,924.5 712.1,913.6 713.0,904.6 C713.9,895.6 714.5,887.8 715.2,875.7 C715.9,863.7 716.6,844.3 717.3,832.3 C718.0,820.2 718.8,813.0 719.5,803.4 C720.2,793.8 721.0,781.1 721.7,774.5 C722.5,767.9 723.3,766.2 724.0,764.0 C724.7,761.8 725.1,761.2 725.7,761.2 C726.3,761.2 726.6,761.8 727.5,764.0 C728.4,766.2 729.4,768.7 731.1,774.5 C732.8,780.3 735.1,791.0 737.6,799.0 C740.1,807.0 742.9,814.2 746.3,822.2 C749.7,830.2 753.9,839.7 757.8,846.7 C761.6,853.7 765.5,858.6 769.4,864.1 C773.3,869.6 777.1,875.2 781.0,880.0 C784.9,884.8 788.6,888.9 792.5,893.0 C796.4,897.1 802.5,902.6 804.5,904.5 L804.5,1029.3 L160.7,1029.3 Z" fill="#cccccc" stroke="none"/>
<g clip-path="url(#cIV)">
<path d="M160.7,1014.4 C162.1,1014.3 166.7,1013.2 169.2,1013.8 C171.7,1014.4 173.3,1016.2 175.7,1018.2 C178.1,1020.2 180.7,1024.3 183.5,1026.0 C186.3,1027.7 189.8,1029.0 192.6,1028.6 C195.4,1028.2 197.9,1026.8 200.3,1023.4 C202.7,1020.0 204.4,1012.5 206.8,1007.9 C209.2,1003.2 212.2,998.6 214.6,995.5 C217.0,992.4 218.9,990.6 221.0,989.0 C223.1,987.4 224.5,986.5 227.0,986.0 C229.5,985.5 230.7,985.6 236.0,985.8 C241.3,986.0 250.5,986.5 258.6,987.0 C266.7,987.5 278.2,988.0 284.5,988.5 C290.8,989.0 292.9,989.0 296.2,989.8 C299.5,990.5 301.4,990.2 304.2,993.0 C307.0,995.8 310.2,1003.2 313.0,1006.6 C315.8,1010.0 317.8,1011.8 320.8,1013.1 C323.8,1014.4 327.8,1015.0 331.2,1014.4 C334.6,1013.8 338.7,1010.3 341.5,1009.2 C344.3,1008.1 346.1,1007.2 348.0,1007.9 C349.9,1008.5 351.7,1010.7 353.2,1013.1 C354.7,1015.5 355.7,1019.7 357.0,1022.1 C358.3,1024.5 359.7,1028.8 361.0,1027.3 C362.3,1025.8 363.7,1018.5 364.8,1013.1 C365.9,1007.7 366.6,1001.4 367.5,994.9 C368.4,988.4 368.9,980.9 370.2,974.2 C371.5,967.5 373.7,958.5 375.4,954.8 C377.1,951.1 377.9,951.6 380.5,952.2 C383.1,952.9 387.0,957.0 390.9,958.7 C394.8,960.4 399.6,961.6 403.9,962.5 C408.2,963.4 412.9,964.0 416.8,963.8 C420.7,963.6 423.8,963.4 427.2,961.2 C430.6,959.1 434.1,955.2 437.5,950.9 C440.9,946.6 444.9,940.0 447.9,935.3 C450.9,930.5 453.8,928.4 455.7,922.4 C457.6,916.4 458.3,909.5 459.6,899.1 C460.9,888.7 462.1,873.2 463.4,860.2 C464.7,847.2 466.0,831.2 467.3,821.3 C468.6,811.4 469.9,805.0 471.2,800.6 C472.5,796.2 473.8,795.1 475.1,794.7 C476.4,794.3 477.5,794.4 479.0,798.0 C480.5,801.6 482.5,808.4 484.2,816.2 C485.9,824.0 487.7,834.4 489.4,844.7 C491.1,855.1 492.8,866.6 494.5,878.3 C496.2,889.9 498.0,903.4 499.7,914.6 C501.4,925.8 503.2,935.8 504.9,945.7 C506.6,955.6 508.4,966.0 510.1,974.2 C511.8,982.4 513.6,988.9 515.3,994.9 C517.0,1000.9 518.5,1005.8 520.4,1010.5 C522.3,1015.2 524.3,1020.5 526.9,1023.4 C529.5,1026.3 532.5,1026.8 536.0,1027.8 C539.5,1028.8 546.0,1029.0 548.0,1029.3" fill="none" stroke="#0000ff" stroke-width="4.9" stroke-dasharray="21 7.5" />
<path d="M160.7,1027.8 C162.3,1026.8 167.1,1025.4 170.5,1022.1 C173.9,1018.8 177.9,1012.2 180.9,1007.9 C183.9,1003.6 186.3,999.0 188.7,996.2 C191.1,993.4 193.5,991.6 195.2,991.0 C196.9,990.4 197.7,990.3 199.0,992.3 C200.3,994.2 201.8,998.4 202.9,1002.7 C204.0,1007.0 204.8,1013.9 205.5,1018.2 C206.2,1022.5 203.2,1026.8 207.3,1028.6 C211.4,1030.4 215.1,1029.2 230.0,1029.3 C244.9,1029.4 285.2,1029.6 297.0,1029.3 C308.8,1029.0 299.2,1029.3 301.0,1027.5 C302.8,1025.7 305.4,1021.2 307.8,1018.2 C310.2,1015.2 312.6,1011.8 315.6,1009.2 C318.6,1006.6 322.6,1004.2 326.0,1002.7 C329.4,1001.2 332.9,1001.4 336.3,1000.1 C339.8,998.8 343.9,997.9 346.7,994.9 C349.5,991.9 351.2,987.1 353.2,982.0 C355.1,976.9 356.9,965.3 358.4,964.4 C359.9,963.5 361.0,972.8 362.3,976.8 C363.6,980.8 364.8,985.2 366.1,988.4 C367.4,991.6 368.7,991.6 370.0,996.0 C371.3,1000.4 372.9,1009.7 374.0,1015.0 C375.1,1020.3 375.9,1025.5 376.7,1027.8 C377.5,1030.1 378.0,1029.0 378.6,1029.0 C379.2,1029.0 378.4,1030.5 380.5,1027.8 C382.6,1025.1 387.0,1017.3 390.9,1013.1 C394.8,1008.9 399.6,1006.2 403.9,1002.7 C408.2,999.2 412.5,996.6 416.8,992.3 C421.1,988.0 425.9,982.4 429.8,976.8 C433.7,971.2 437.1,963.9 440.1,958.7 C443.1,953.5 445.7,948.5 447.9,945.7 C450.1,942.9 451.6,941.8 453.1,941.8 C454.6,941.8 455.7,942.0 457.0,945.7 C458.3,949.4 459.6,956.5 460.9,963.8 C462.2,971.1 463.4,981.1 464.7,989.7 C466.0,998.3 467.3,1009.3 468.6,1015.6 C469.9,1021.9 470.8,1025.3 472.5,1027.3 C474.2,1029.2 477.1,1028.4 479.0,1027.3 C480.9,1026.2 482.0,1025.8 484.2,1020.8 C486.4,1015.8 489.4,1009.1 492.0,997.5 C494.6,985.9 497.3,966.4 499.7,950.9 C502.1,935.4 504.2,917.2 506.2,904.2 C508.1,891.2 509.7,879.7 511.4,873.2 C513.1,866.7 514.9,865.4 516.6,865.4 C518.3,865.4 519.8,867.6 521.7,873.2 C523.6,878.8 526.0,889.6 528.2,899.1 C530.4,908.6 532.5,920.3 534.7,930.2 C536.9,940.1 538.8,950.5 541.2,958.7 C543.6,966.9 545.9,972.9 548.9,979.4 C551.9,985.9 555.8,992.8 559.3,997.5 C562.8,1002.2 566.2,1005.3 569.7,1007.9 C573.2,1010.5 577.2,1011.9 580.0,1013.1 C582.8,1014.3 582.4,1013.8 586.3,1015.1 C590.2,1016.4 597.6,1019.4 603.3,1020.8 C609.0,1022.2 614.2,1022.8 620.3,1023.6 C626.4,1024.4 634.2,1025.3 640.1,1025.6 C646.0,1025.9 652.2,1026.6 655.7,1025.6 C659.2,1024.6 659.8,1021.6 661.4,1019.4 C663.0,1017.2 664.2,1013.9 665.6,1012.3 C667.0,1010.7 668.1,1009.8 669.8,1010.0 C671.4,1010.2 672.9,1011.9 675.5,1013.7 C678.1,1015.5 681.4,1019.0 685.4,1020.8 C689.4,1022.6 694.4,1023.7 699.6,1024.5 C704.8,1025.3 706.5,1025.1 716.6,1025.6 C726.7,1026.1 745.4,1027.0 760.0,1027.5 C774.6,1028.0 797.1,1028.3 804.5,1028.5" fill="none" stroke="#000" stroke-width="3.4" />
<path d="M196.0,1030.0 C208.3,1029.9 255.2,1029.9 270.0,1029.3 C284.8,1028.7 280.9,1027.7 285.0,1026.5 C289.1,1025.3 290.7,1023.3 294.9,1022.1 C299.1,1020.9 305.2,1020.0 310.4,1019.5 C315.6,1019.0 321.7,1018.6 326.0,1018.8 C330.3,1019.0 332.4,1020.5 336.3,1020.8 C340.2,1021.1 345.0,1021.0 349.3,1020.8 C353.6,1020.6 359.7,1019.7 362.3,1019.5 C364.9,1019.3 362.4,1020.4 365.0,1019.5 C367.6,1018.6 372.8,1015.6 378.0,1014.4 C383.2,1013.2 389.6,1012.7 396.1,1012.5 C402.6,1012.3 411.6,1012.6 416.8,1013.1 C422.0,1013.6 424.2,1013.9 427.2,1015.6 C430.2,1017.3 432.9,1021.4 435.0,1023.4 C437.1,1025.4 439.2,1027.1 440.1,1027.8" fill="none" stroke="#ff00ff" stroke-width="5.8" stroke-dasharray="24 9 5 9" />
<path d="M510.1,1027.8 C511.8,1026.2 517.0,1021.5 520.4,1018.2 C523.8,1014.9 528.2,1011.4 530.8,1007.9 C533.4,1004.4 534.3,1005.7 536.0,997.5 C537.7,989.3 539.7,975.1 541.2,958.7 C542.7,942.3 543.8,919.8 545.1,899.1 C546.4,878.4 547.6,853.3 548.9,834.3 C550.2,815.3 551.3,798.0 552.8,785.1 C554.3,772.2 556.3,762.0 558.0,756.6 C559.7,751.2 561.5,752.5 563.2,752.7 C564.9,752.9 566.5,753.8 568.4,757.9 C570.3,762.0 573.0,771.9 574.9,777.3 C576.8,782.7 578.1,786.3 580.0,790.3 C581.9,794.3 582.9,793.4 586.3,801.4 C589.7,809.4 595.3,826.4 600.5,838.2 C605.7,850.0 611.8,861.4 617.5,872.2 C623.2,883.1 629.3,893.9 634.5,903.3 C639.7,912.7 644.8,922.9 648.6,928.8 C652.4,934.7 654.5,936.8 657.1,938.7 C659.7,940.6 662.3,943.6 664.2,940.1 C666.1,936.6 667.0,924.1 668.4,917.5 C669.8,910.9 671.3,903.9 672.7,900.5 C674.1,897.1 675.2,896.6 676.9,897.1 C678.5,897.6 680.7,899.0 682.6,903.3 C684.5,907.6 686.2,915.1 688.3,923.1 C690.4,931.1 692.9,942.0 695.3,951.4 C697.6,960.8 700.3,971.2 702.4,979.7 C704.5,988.2 706.2,996.2 708.1,1002.4 C710.0,1008.5 711.4,1013.1 713.7,1016.6 C716.1,1020.1 718.0,1022.1 722.2,1023.6 C726.5,1025.1 725.5,1025.1 739.2,1025.6 C752.9,1026.1 793.6,1026.3 804.5,1026.5" fill="none" stroke="#ff00ff" stroke-width="5.8" stroke-dasharray="24 9 5 9" />
<path d="M206.8,1026.0 C219.8,1025.6 262.9,1023.9 284.5,1023.4 C306.1,1022.9 323.3,1023.3 336.3,1022.9 C349.3,1022.5 355.0,1021.1 362.3,1021.0 C369.6,1020.9 373.1,1022.1 380.0,1022.5 C386.9,1022.9 395.6,1023.3 403.9,1023.4 C412.2,1023.5 423.5,1023.4 430.0,1023.0 C436.5,1022.6 438.4,1021.8 442.7,1020.8 C447.0,1019.8 451.4,1017.5 455.7,1016.9 C460.0,1016.2 464.3,1016.0 468.6,1016.9 C472.9,1017.8 477.3,1020.4 481.6,1022.1 C485.9,1023.8 491.6,1026.1 494.5,1027.3 C497.4,1028.5 498.2,1029.0 499.0,1029.3" fill="none" stroke="#ff0000" stroke-width="4.6" stroke-dasharray="4.7 7.8" />
<path d="M633.0,1028.5 C634.2,1028.2 637.0,1027.5 640.1,1026.5 C643.2,1025.5 648.1,1024.1 651.4,1022.2 C654.7,1020.3 657.1,1015.3 659.9,1015.1 C662.7,1014.9 664.6,1019.5 668.0,1021.0 C671.4,1022.5 675.7,1024.7 680.0,1024.0 C684.3,1023.3 690.4,1020.2 693.9,1016.6 C697.4,1013.0 698.9,1008.5 701.0,1002.4 C703.1,996.2 705.1,988.2 706.7,979.7 C708.4,971.2 709.7,961.0 710.9,951.4 C712.1,941.8 712.9,933.1 713.7,921.9 C714.5,910.7 715.0,894.9 715.6,884.3 C716.2,873.7 716.8,867.0 717.3,858.3 C717.8,849.6 718.2,840.7 718.8,832.3 C719.4,823.9 720.5,814.0 721.0,807.7 C721.5,801.4 721.5,798.4 722.0,794.7 C722.5,791.0 723.3,787.2 723.9,785.3 C724.5,783.3 725.3,783.4 725.6,783.0" fill="none" stroke="#ff0000" stroke-width="4.6" stroke-dasharray="4.7 7.8" />
<path d="M725.6,783.0 C725.9,783.3 726.6,783.3 727.5,785.0 C728.4,786.7 729.9,790.0 731.1,793.3 C732.3,796.6 733.5,800.9 734.7,804.8 C735.9,808.6 737.0,812.5 738.3,816.4 C739.6,820.2 741.1,823.8 742.6,827.9 C744.1,832.0 745.4,836.9 747.0,841.0 C748.6,845.1 750.2,848.8 752.0,852.5 C753.8,856.2 755.9,860.0 757.8,863.4 C759.7,866.8 761.7,869.9 763.6,872.8 C765.5,875.7 767.5,878.2 769.4,880.7 C771.3,883.2 773.2,885.5 775.2,887.9 C777.2,890.3 779.5,892.8 781.7,895.2 C783.9,897.6 785.7,900.1 788.2,902.4 C790.7,904.7 794.2,906.5 796.9,908.9 C799.6,911.2 803.2,915.2 804.5,916.5" fill="none" stroke="#ff0000" stroke-width="4.6" stroke-dasharray="6 5.3" stroke-dashoffset="3"/>
<path d="M240.0,1029.5 L262.0,1027.6 L284.5,1026.8 L315.6,1026.0 L335.8,1026.0" fill="none" stroke="#808080" stroke-width="6.6" />
<rect x="330.5" y="1018.8" width="5.3" height="8" fill="#808080"/>
<rect x="497.8" y="1013" width="6.6" height="16" fill="#808080"/>
<rect x="527.6" y="1014.4" width="6.6" height="15" fill="#808080"/>
</g>
<rect x="160.7" y="644.3" width="643.8" height="385.0" fill="none" stroke="#000" stroke-width="2.6"/>
<rect x="671.3" y="652.7" width="67.9" height="55.8" fill="none" stroke="#000" stroke-width="1.8"/>
<text transform="translate(706.2,702.9) scale(0.955,1)" font-size="64" text-anchor="middle">IV</text>
<text transform="translate(226.6,740.3) scale(0.945,1)" font-size="45.5" stroke="#000" stroke-width="0.3"><tspan font-size="34.6" dy="-22.8">16</tspan><tspan dy="22.8">O, J</tspan><tspan font-size="35" dy="-22.8" class="ser" dx="0">π</tspan><tspan dy="22.8" dx="1.4">=2</tspan><tspan font-size="34.6" dy="-22.8" dx="1.3">+</tspan></text>
<text transform="translate(366.8,887.2) scale(1.22,1)" font-size="34.3" fill="#0000ff" stroke="#0000ff" stroke-width="0.45" class="ser">δ</text>
<text x="383.6" y="871.8" font-size="28" fill="#0000ff" stroke="#0000ff" stroke-width="0.3">(1)</text>
<text x="383.6" y="898.0" font-size="28" fill="#0000ff" stroke="#0000ff" stroke-width="0.3">2</text>
<path d="M418.5,877.1 L458.0,877.1 M445.5,883.4 L458.0,877.1 L445.5,870.8" fill="none" stroke="#0000ff" stroke-width="2.0" stroke-linejoin="miter"/>
<text transform="translate(546.7,939.0) scale(1.22,1)" font-size="34.3" fill="#ff00ff" stroke="#ff00ff" stroke-width="0.45" class="ser">δ</text>
<text x="563.5" y="923.6" font-size="28" fill="#ff00ff" stroke="#ff00ff" stroke-width="0.3">(1)</text>
<text x="563.5" y="949.8" font-size="28" fill="#ff00ff" stroke="#ff00ff" stroke-width="0.3">3</text>
<path d="M597.5,907.0 L621.5,880.8 M617.7,894.3 L621.5,880.8 L608.4,885.8" fill="none" stroke="#ff00ff" stroke-width="2.0" stroke-linejoin="miter"/>
<text transform="translate(599.1,990.8) scale(1.22,1)" font-size="34.3" fill="#000" stroke="#000" stroke-width="0.45" class="ser">δ</text>
<text x="615.9" y="975.4" font-size="28" fill="#000" stroke="#000" stroke-width="0.3">(1)</text>
<text x="615.9" y="1001.6" font-size="28" fill="#000" stroke="#000" stroke-width="0.3">1</text>
<path d="M600.0,981.5 L572.6,1009.2 M576.9,995.9 L572.6,1009.2 L585.9,1004.7" fill="none" stroke="#000" stroke-width="2.0" stroke-linejoin="miter"/>
<text transform="translate(727.3,964.7) scale(1.22,1)" font-size="34.3" fill="#ff0000" stroke="#ff0000" stroke-width="0.45" class="ser">δ</text>
<text x="744.1" y="949.3" font-size="28" fill="#ff0000" stroke="#ff0000" stroke-width="0.3">(1)</text>
<text x="744.1" y="975.5" font-size="28" fill="#ff0000" stroke="#ff0000" stroke-width="0.3">4</text>
<path d="M752.6,927.6 L782.0,895.2 M778.3,908.7 L782.0,895.2 L768.9,900.2" fill="none" stroke="#ff0000" stroke-width="2.0" stroke-linejoin="miter"/>
<clipPath id="cPH"><rect x="150" y="1045.1" width="670" height="399.3"/></clipPath>
<path d="M160.70,1050.1 v13.4 M160.70,1436.4 v-13.4 M186.45,1050.1 v6.9 M186.45,1436.4 v-6.9 M212.20,1050.1 v6.9 M212.20,1436.4 v-6.9 M237.96,1050.1 v6.9 M237.96,1436.4 v-6.9 M263.71,1050.1 v6.9 M263.71,1436.4 v-6.9 M289.46,1050.1 v13.4 M289.46,1436.4 v-13.4 M315.21,1050.1 v6.9 M315.21,1436.4 v-6.9 M340.96,1050.1 v6.9 M340.96,1436.4 v-6.9 M366.72,1050.1 v6.9 M366.72,1436.4 v-6.9 M392.47,1050.1 v6.9 M392.47,1436.4 v-6.9 M418.22,1050.1 v13.4 M418.22,1436.4 v-13.4 M443.97,1050.1 v6.9 M443.97,1436.4 v-6.9 M469.72,1050.1 v6.9 M469.72,1436.4 v-6.9 M495.48,1050.1 v6.9 M495.48,1436.4 v-6.9 M521.23,1050.1 v6.9 M521.23,1436.4 v-6.9 M546.98,1050.1 v13.4 M546.98,1436.4 v-13.4 M572.73,1050.1 v6.9 M572.73,1436.4 v-6.9 M598.48,1050.1 v6.9 M598.48,1436.4 v-6.9 M624.24,1050.1 v6.9 M624.24,1436.4 v-6.9 M649.99,1050.1 v6.9 M649.99,1436.4 v-6.9 M675.74,1050.1 v13.4 M675.74,1436.4 v-13.4 M701.49,1050.1 v6.9 M701.49,1436.4 v-6.9 M727.24,1050.1 v6.9 M727.24,1436.4 v-6.9 M753.00,1050.1 v6.9 M753.00,1436.4 v-6.9 M778.75,1050.1 v6.9 M778.75,1436.4 v-6.9 M804.50,1050.1 v13.4 M804.50,1436.4 v-13.4 " stroke="#000" stroke-width="1.1" fill="none"/>
<path d="M160.7,1339.83 h13.4 M804.5,1339.83 h-13.4 M160.7,1146.67 h13.4 M804.5,1146.67 h-13.4 " stroke="#000" stroke-width="1.1" fill="none"/>
<path d="M160.7,1243.25 L804.5,1243.25" stroke="#000" stroke-width="1.1" fill="none"/>
<path d="M196.5,1050.1 v13.4" stroke="#000" stroke-width="1.1" fill="none"/>
<path d="M196.5,1050.1 L196.5,1436.4" stroke="#000" stroke-width="1.35" stroke-dasharray="2.3 5.15" fill="none"/>
<path d="M208.1,1050.1 v13.4" stroke="#000" stroke-width="1.1" fill="none"/>
<path d="M208.1,1050.1 L208.1,1436.4" stroke="#000" stroke-width="1.35" stroke-dasharray="2.3 5.15" fill="none"/>
<path d="M323.4,1050.1 v13.4" stroke="#000" stroke-width="1.1" fill="none"/>
<path d="M323.4,1050.1 L323.4,1436.4" stroke="#000" stroke-width="1.35" stroke-dasharray="2.3 5.15" fill="none"/>
<path d="M577.4,1050.1 v13.4" stroke="#000" stroke-width="1.1" fill="none"/>
<path d="M577.4,1050.1 L577.4,1436.4" stroke="#000" stroke-width="1.35" stroke-dasharray="2.3 5.15" fill="none"/>
<path d="M705.8,1050.1 v13.4" stroke="#000" stroke-width="1.1" fill="none"/>
<path d="M705.8,1050.1 L705.8,1436.4" stroke="#000" stroke-width="1.35" stroke-dasharray="2.3 5.15" fill="none"/>
<text x="143.0" y="1446.6" font-size="29.5" fill="#000" stroke="#000" stroke-width="0.3" text-anchor="end" >0</text>
<text x="143.0" y="1350.0" font-size="29.5" fill="#000" stroke="#000" stroke-width="0.3" text-anchor="end" ><tspan class="ser" font-size="32" stroke-width="0.6">π</tspan>/4</text>
<text x="143.0" y="1253.5" font-size="29.5" fill="#000" stroke="#000" stroke-width="0.3" text-anchor="end" ><tspan class="ser" font-size="32" stroke-width="0.6">π</tspan>/2</text>
<text x="143.0" y="1156.9" font-size="29.5" fill="#000" stroke="#000" stroke-width="0.3" text-anchor="end" >3<tspan class="ser" font-size="32" stroke-width="0.6">π</tspan>/4</text>
<text x="143.0" y="1060.3" font-size="29.5" fill="#000" stroke="#000" stroke-width="0.3" text-anchor="end" ><tspan class="ser" font-size="32" stroke-width="0.6">π</tspan></text>
<text x="167.3" y="1475.6" font-size="29.5" fill="#000" stroke="#000" stroke-width="0.3" text-anchor="middle" >15</text>
<text x="293.9" y="1475.6" font-size="29.5" fill="#000" stroke="#000" stroke-width="0.3" text-anchor="middle" >20</text>
<text x="421.6" y="1475.6" font-size="29.5" fill="#000" stroke="#000" stroke-width="0.3" text-anchor="middle" >25</text>
<text x="550.4" y="1475.6" font-size="29.5" fill="#000" stroke="#000" stroke-width="0.3" text-anchor="middle" >30</text>
<text x="678.2" y="1475.6" font-size="29.5" fill="#000" stroke="#000" stroke-width="0.3" text-anchor="middle" >35</text>
<text x="805.9" y="1475.6" font-size="29.5" fill="#000" stroke="#000" stroke-width="0.3" text-anchor="middle" >40</text>
<g clip-path="url(#cPH)">
<path d="M160.7,1052.8 C164.1,1052.7 175.4,1052.5 180.9,1052.3 C186.4,1052.1 190.0,1051.2 193.9,1051.5 C197.8,1051.8 200.8,1052.8 204.2,1054.1 C207.6,1055.4 210.3,1057.7 214.6,1059.2 C218.9,1060.7 223.6,1062.0 230.1,1063.1 C236.6,1064.2 245.6,1065.0 253.4,1065.7 C261.2,1066.4 269.4,1066.7 276.8,1067.0 C284.2,1067.3 291.0,1067.5 297.5,1067.5 C304.0,1067.5 309.6,1066.9 315.6,1067.0 C321.7,1067.1 328.6,1067.4 333.8,1068.3 C339.0,1069.2 342.4,1070.9 346.7,1072.2 C351.0,1073.5 355.8,1075.0 359.7,1076.1 C363.6,1077.2 366.5,1077.4 370.0,1078.7 C373.5,1080.0 375.7,1082.8 380.5,1083.9 C385.3,1085.0 391.8,1085.0 398.7,1085.2 C405.6,1085.4 415.5,1085.0 422.0,1085.2 C428.5,1085.4 433.6,1085.4 437.5,1086.5 C441.4,1087.6 442.7,1087.7 445.3,1091.6 C447.9,1095.5 450.5,1102.9 453.1,1109.8 C455.7,1116.7 458.5,1126.4 460.9,1133.1 C463.3,1139.8 465.8,1146.6 467.3,1149.9 C468.8,1153.2 469.6,1152.5 470.0,1153.0" fill="none" stroke="#0000ff" stroke-width="5" stroke-dasharray="34 6.5" stroke-dashoffset="14"/>
<path d="M473.5,1153.0 C474.9,1151.0 478.5,1146.0 481.6,1140.9 C484.7,1135.9 488.6,1128.5 492.0,1122.7 C495.4,1116.9 498.9,1110.9 502.3,1105.9 C505.8,1100.9 508.8,1096.4 512.7,1092.9 C516.6,1089.5 520.9,1087.4 525.6,1085.2 C530.4,1083.0 535.6,1081.3 541.2,1080.0 C546.8,1078.7 552.8,1078.2 559.3,1077.4 C565.8,1076.6 573.6,1075.7 580.0,1075.2 C586.4,1074.7 590.9,1074.5 597.6,1074.2 C604.3,1073.9 612.7,1073.5 620.3,1073.3 C627.9,1073.1 636.4,1073.0 643.0,1073.3 C649.6,1073.6 655.2,1075.1 659.9,1075.3 C664.6,1075.5 667.0,1075.3 671.3,1074.7 C675.5,1074.1 681.2,1073.1 685.4,1071.9 C689.6,1070.7 693.6,1069.2 696.7,1067.6 C699.8,1065.9 701.9,1064.2 703.8,1062.0 C705.7,1059.8 707.5,1055.8 708.3,1054.5" fill="none" stroke="#0000ff" stroke-width="5" stroke-dasharray="21 8" />
<path d="M711.0,1432.0 C711.2,1431.2 711.4,1430.8 712.3,1427.2 C713.2,1423.6 715.0,1416.8 716.6,1410.2 C718.2,1403.6 720.1,1393.7 722.2,1387.6 C724.3,1381.5 726.5,1377.2 729.3,1373.4 C732.1,1369.6 735.2,1367.0 739.2,1364.9 C743.2,1362.8 747.7,1361.8 753.4,1360.7 C759.1,1359.6 764.7,1359.0 773.2,1358.4 C781.7,1357.8 799.3,1357.2 804.5,1357.0" fill="none" stroke="#0000ff" stroke-width="5" stroke-dasharray="21 8" />
<path d="M160.7,1434.6 C163.2,1434.4 171.5,1434.6 175.7,1433.6 C179.9,1432.6 183.1,1431.4 186.1,1428.4 C189.1,1425.4 191.8,1421.1 193.9,1415.5 C196.1,1409.9 197.5,1404.7 199.0,1394.8 C200.5,1384.9 201.8,1371.0 202.9,1355.9 C204.0,1340.8 204.8,1322.9 205.5,1304.1 C206.2,1285.3 206.4,1262.6 206.8,1243.2 C207.2,1223.8 207.7,1203.3 208.1,1187.5 C208.5,1171.7 208.8,1159.4 209.4,1148.6 C210.1,1137.8 210.9,1130.2 212.0,1122.7 C213.1,1115.2 214.2,1108.3 215.9,1103.3 C217.6,1098.3 219.6,1095.5 222.4,1092.9 C225.2,1090.3 228.4,1089.2 232.7,1087.7 C237.0,1086.2 242.7,1085.4 248.3,1083.9 C253.9,1082.4 260.4,1080.2 266.4,1078.7 C272.4,1077.2 279.3,1075.8 284.5,1074.8 C289.7,1073.8 293.2,1073.2 297.5,1073.0 C301.8,1072.8 304.8,1073.1 310.4,1073.5 C316.0,1073.9 324.7,1074.7 331.2,1075.6 C337.7,1076.5 344.1,1077.7 349.3,1078.7 C354.5,1079.7 358.9,1081.1 362.3,1081.8 C365.8,1082.5 367.0,1082.2 370.0,1083.0 C373.0,1083.8 376.6,1084.8 380.5,1086.5 C384.4,1088.2 389.6,1090.3 393.5,1092.9 C397.4,1095.5 400.4,1097.5 403.9,1102.0 C407.3,1106.5 410.8,1112.3 414.2,1120.1 C417.6,1127.9 421.1,1139.5 424.6,1148.6 C428.1,1157.7 432.0,1167.2 435.0,1174.5 C438.0,1181.8 440.1,1188.0 442.7,1192.7 C445.3,1197.5 448.1,1200.6 450.5,1203.0 C452.9,1205.4 454.9,1205.6 457.0,1206.9 C459.1,1208.2 461.5,1208.4 463.4,1210.8 C465.3,1213.2 466.9,1216.9 468.6,1221.2 C470.3,1225.5 472.1,1231.7 473.8,1236.7 C475.5,1241.7 477.3,1247.8 479.0,1251.0 C480.7,1254.2 482.5,1255.2 484.2,1256.1 C485.9,1256.9 487.7,1257.2 489.4,1256.1 C491.1,1255.0 492.8,1253.8 494.5,1249.7 C496.2,1245.6 497.8,1239.7 499.7,1231.5 C501.6,1223.3 504.0,1212.1 506.2,1200.4 C508.4,1188.8 510.6,1172.8 512.7,1161.6 C514.9,1150.4 517.0,1140.9 519.1,1133.1 C521.2,1125.3 523.2,1119.9 525.6,1114.9 C528.0,1109.9 530.0,1106.8 533.4,1103.3 C536.8,1099.8 541.5,1096.7 546.3,1094.2 C551.0,1091.7 556.3,1089.9 561.9,1088.5 C567.5,1087.1 574.0,1086.8 580.0,1086.0 C586.0,1085.2 590.9,1084.6 597.6,1083.8 C604.3,1083.0 612.7,1081.9 620.3,1081.2 C627.9,1080.5 637.6,1079.8 643.0,1079.8 C648.4,1079.8 650.1,1079.9 652.9,1081.2 C655.7,1082.5 657.8,1085.6 659.9,1087.5 C662.0,1089.4 663.5,1091.8 665.6,1092.6 C667.7,1093.4 669.9,1093.2 672.7,1092.6 C675.5,1092.0 678.6,1090.1 682.6,1088.9 C686.6,1087.7 691.0,1086.5 696.7,1085.5 C702.4,1084.5 708.6,1083.8 716.6,1083.2 C724.6,1082.6 730.2,1082.0 744.9,1081.8 C759.5,1081.6 794.6,1081.8 804.5,1081.8" fill="none" stroke="#000" stroke-width="3.4" />
<path d="M226.0,1049.7 C238.3,1049.8 276.8,1050.0 300.0,1050.3 C323.2,1050.6 349.9,1051.1 365.0,1051.5 C380.1,1051.9 384.4,1052.1 390.9,1052.8 C397.4,1053.5 399.6,1054.3 403.9,1055.4 C408.2,1056.5 412.1,1057.5 416.8,1059.2 C421.6,1060.9 427.2,1064.0 432.4,1065.7 C437.6,1067.4 442.3,1068.9 447.9,1069.6 C453.5,1070.2 460.4,1070.2 466.0,1069.6 C471.6,1068.9 477.3,1067.2 481.6,1065.7 C485.9,1064.2 489.0,1062.4 492.0,1060.5 C495.0,1058.6 498.4,1055.2 499.7,1054.1" fill="none" stroke="#ff00ff" stroke-width="5.9" stroke-dasharray="15 11 5 11 26 11 5 11" />
<path d="M502.3,1432.0 C504.5,1425.8 511.0,1407.4 515.3,1394.7 C519.6,1382.0 524.3,1368.0 528.2,1355.9 C532.1,1343.8 535.6,1333.0 538.6,1322.2 C541.6,1311.4 544.1,1302.8 546.3,1291.1 C548.4,1279.4 549.8,1263.1 551.5,1252.3 C553.2,1241.5 555.0,1235.0 556.7,1226.4 C558.4,1217.8 559.7,1208.3 561.9,1200.5 C564.1,1192.7 567.5,1184.6 569.7,1179.7 C571.9,1174.8 572.2,1175.0 575.0,1171.0 C577.8,1167.0 581.6,1160.4 586.3,1155.4 C591.0,1150.5 597.2,1145.5 603.3,1141.3 C609.4,1137.0 617.0,1133.0 623.1,1129.9 C629.2,1126.8 635.1,1124.6 640.1,1122.9 C645.1,1121.2 649.6,1119.3 652.9,1120.0 C656.2,1120.7 658.0,1122.1 659.9,1127.1 C661.8,1132.1 662.8,1141.8 664.2,1149.8 C665.6,1157.8 666.8,1171.0 668.4,1175.2 C670.0,1179.4 672.2,1177.6 674.1,1175.2 C676.0,1172.8 677.4,1166.8 679.8,1161.1 C682.2,1155.4 685.5,1147.4 688.3,1141.3 C691.1,1135.2 693.9,1130.0 696.7,1124.3 C699.5,1118.6 702.4,1112.7 705.2,1107.3 C708.0,1101.9 710.9,1095.2 713.7,1091.7 C716.5,1088.2 718.9,1087.5 722.2,1086.1 C725.5,1084.7 727.8,1083.8 733.5,1083.2 C739.2,1082.6 744.4,1082.5 756.2,1082.4 C768.0,1082.3 796.5,1082.4 804.5,1082.4" fill="none" stroke="#ff00ff" stroke-width="5.9" stroke-dasharray="26 10 5 10" />
<path d="M196.5,1050.5 C211.2,1050.8 265.5,1051.4 284.5,1052.0 C303.5,1052.6 301.8,1053.4 310.4,1054.1 C319.0,1054.8 328.5,1055.2 336.3,1055.9 C344.1,1056.6 351.4,1057.6 357.0,1058.5 C362.6,1059.4 366.1,1060.1 370.0,1061.1 C373.9,1062.1 374.9,1063.0 380.5,1064.4 C386.1,1065.8 396.5,1068.1 403.9,1069.6 C411.2,1071.1 418.1,1072.2 424.6,1073.5 C431.1,1074.8 436.6,1076.3 442.7,1077.4 C448.8,1078.5 455.3,1079.9 460.9,1080.0 C466.5,1080.1 470.8,1079.5 476.4,1078.2 C482.0,1076.9 488.9,1074.3 494.5,1072.2 C500.1,1070.1 505.4,1067.9 510.1,1065.7 C514.9,1063.5 519.5,1061.6 523.0,1059.2 C526.5,1056.8 529.5,1052.8 530.8,1051.5" fill="none" stroke="#ff0000" stroke-width="4.6" stroke-dasharray="6.5 4.6" />
<path d="M533.0,1430.0 C533.5,1428.4 534.2,1424.8 536.0,1420.6 C537.8,1416.4 541.2,1410.7 543.8,1405.1 C546.4,1399.5 548.5,1392.2 551.5,1387.0 C554.5,1381.8 558.4,1377.9 561.9,1374.0 C565.4,1370.1 569.3,1366.2 572.3,1363.6 C575.3,1361.0 576.7,1360.6 580.0,1358.5 C583.3,1356.4 586.7,1353.7 592.0,1350.8 C597.3,1347.9 605.2,1344.2 611.8,1340.9 C618.4,1337.6 625.9,1335.0 631.6,1331.0 C637.3,1327.0 641.8,1321.8 645.8,1316.8 C649.8,1311.8 653.1,1305.3 655.7,1301.2 C658.3,1297.1 659.5,1293.1 661.4,1291.9 C663.3,1290.7 665.4,1291.0 667.0,1294.2 C668.6,1297.4 669.9,1304.5 671.3,1311.1 C672.7,1317.7 673.6,1328.5 675.5,1333.8 C677.4,1339.1 679.5,1342.2 682.6,1343.1 C685.7,1344.0 690.4,1341.9 693.9,1339.4 C697.4,1336.9 701.0,1333.8 703.8,1328.1 C706.6,1322.4 708.8,1314.0 710.9,1305.5 C713.0,1297.0 715.0,1286.6 716.6,1277.2 C718.2,1267.8 719.6,1257.4 720.8,1248.9 C722.0,1240.4 722.2,1233.8 723.6,1226.2 C725.0,1218.7 726.9,1210.7 729.3,1203.6 C731.7,1196.5 734.3,1189.4 737.8,1183.7 C741.3,1178.0 745.5,1173.4 750.5,1169.6 C755.5,1165.8 761.8,1163.3 767.5,1161.1 C773.2,1158.9 778.8,1157.6 784.5,1156.3 C790.2,1155.0 798.7,1153.7 801.5,1153.2" fill="none" stroke="#ff0000" stroke-width="4.6" stroke-dasharray="4.7 7.4" />
<path d="M207.5,1436.2 C222.9,1436.1 267.9,1435.8 300.0,1435.6 C332.1,1435.4 366.7,1435.2 400.0,1435.0 C433.3,1434.8 466.7,1434.6 500.0,1434.4 C533.3,1434.2 566.7,1434.1 600.0,1434.1 C633.3,1434.1 665.9,1434.1 700.0,1434.3 C734.1,1434.5 787.1,1434.9 804.5,1435.0" fill="none" stroke="#808080" stroke-width="11" stroke-linecap="round"/>
</g>
<rect x="160.7" y="1050.1" width="643.8" height="386.3000000000002" fill="none" stroke="#000" stroke-width="2.6"/>
<circle cx="499.9" cy="1050.4" r="6.2" fill="#808080"/>
<text transform="translate(238.6,1292.0) scale(1.22,1)" font-size="34.3" fill="#000" stroke="#000" stroke-width="0.45" class="ser">δ</text>
<text x="255.4" y="1276.6" font-size="28" fill="#000" stroke="#000" stroke-width="0.3">(1)</text>
<text x="255.4" y="1302.8" font-size="28" fill="#000" stroke="#000" stroke-width="0.3">1</text>
<path d="M237.9,1269.8 L206.8,1244.8 M220.5,1247.7 L206.8,1244.8 L212.6,1257.5" fill="none" stroke="#000" stroke-width="2.0" stroke-linejoin="miter"/>
<text transform="translate(341.6,1341.0) scale(1.22,1)" font-size="34.3" fill="#808080" stroke="#808080" stroke-width="0.45" class="ser">δ</text>
<text x="358.4" y="1325.6" font-size="28" fill="#808080" stroke="#808080" stroke-width="0.3">(1)</text>
<text x="358.4" y="1351.8" font-size="28" fill="#808080" stroke="#808080" stroke-width="0.3">5</text>
<path d="M367.4,1359.7 L367.4,1424.5 M361.1,1412.0 L367.4,1424.5 L373.7,1412.0" fill="none" stroke="#808080" stroke-width="2.0" stroke-linejoin="miter"/>
<text transform="translate(366.8,1215.2) scale(1.22,1)" font-size="34.3" fill="#0000ff" stroke="#0000ff" stroke-width="0.45" class="ser">δ</text>
<text x="383.6" y="1199.8" font-size="28" fill="#0000ff" stroke="#0000ff" stroke-width="0.3">(1)</text>
<text x="383.6" y="1226.0" font-size="28" fill="#0000ff" stroke="#0000ff" stroke-width="0.3">2</text>
<path d="M418.4,1203.3 L458.3,1130.5 M457.8,1144.5 L458.3,1130.5 L446.8,1138.4" fill="none" stroke="#0000ff" stroke-width="2.0" stroke-linejoin="miter"/>
<text transform="translate(444.6,1301.8) scale(1.22,1)" font-size="34.3" fill="#ff00ff" stroke="#ff00ff" stroke-width="0.45" class="ser">δ</text>
<text x="461.4" y="1286.4" font-size="28" fill="#ff00ff" stroke="#ff00ff" stroke-width="0.3">(1)</text>
<text x="461.4" y="1312.6" font-size="28" fill="#ff00ff" stroke="#ff00ff" stroke-width="0.3">3</text>
<path d="M495.8,1291.1 L547.6,1291.1 M535.1,1297.4 L547.6,1291.1 L535.1,1284.8" fill="none" stroke="#ff00ff" stroke-width="2.0" stroke-linejoin="miter"/>
<text transform="translate(624.8,1235.0) scale(1.22,1)" font-size="34.3" fill="#ff0000" stroke="#ff0000" stroke-width="0.45" class="ser">δ</text>
<text x="641.6" y="1219.6" font-size="28" fill="#ff0000" stroke="#ff0000" stroke-width="0.3">(1)</text>
<text x="641.6" y="1245.8" font-size="28" fill="#ff0000" stroke="#ff0000" stroke-width="0.3">4</text>
<path d="M663.0,1234.2 L702.1,1291.3 M689.8,1284.5 L702.1,1291.3 L700.2,1277.4" fill="none" stroke="#ff0000" stroke-width="2.0" stroke-linejoin="miter"/>
</svg>
</body></html>
